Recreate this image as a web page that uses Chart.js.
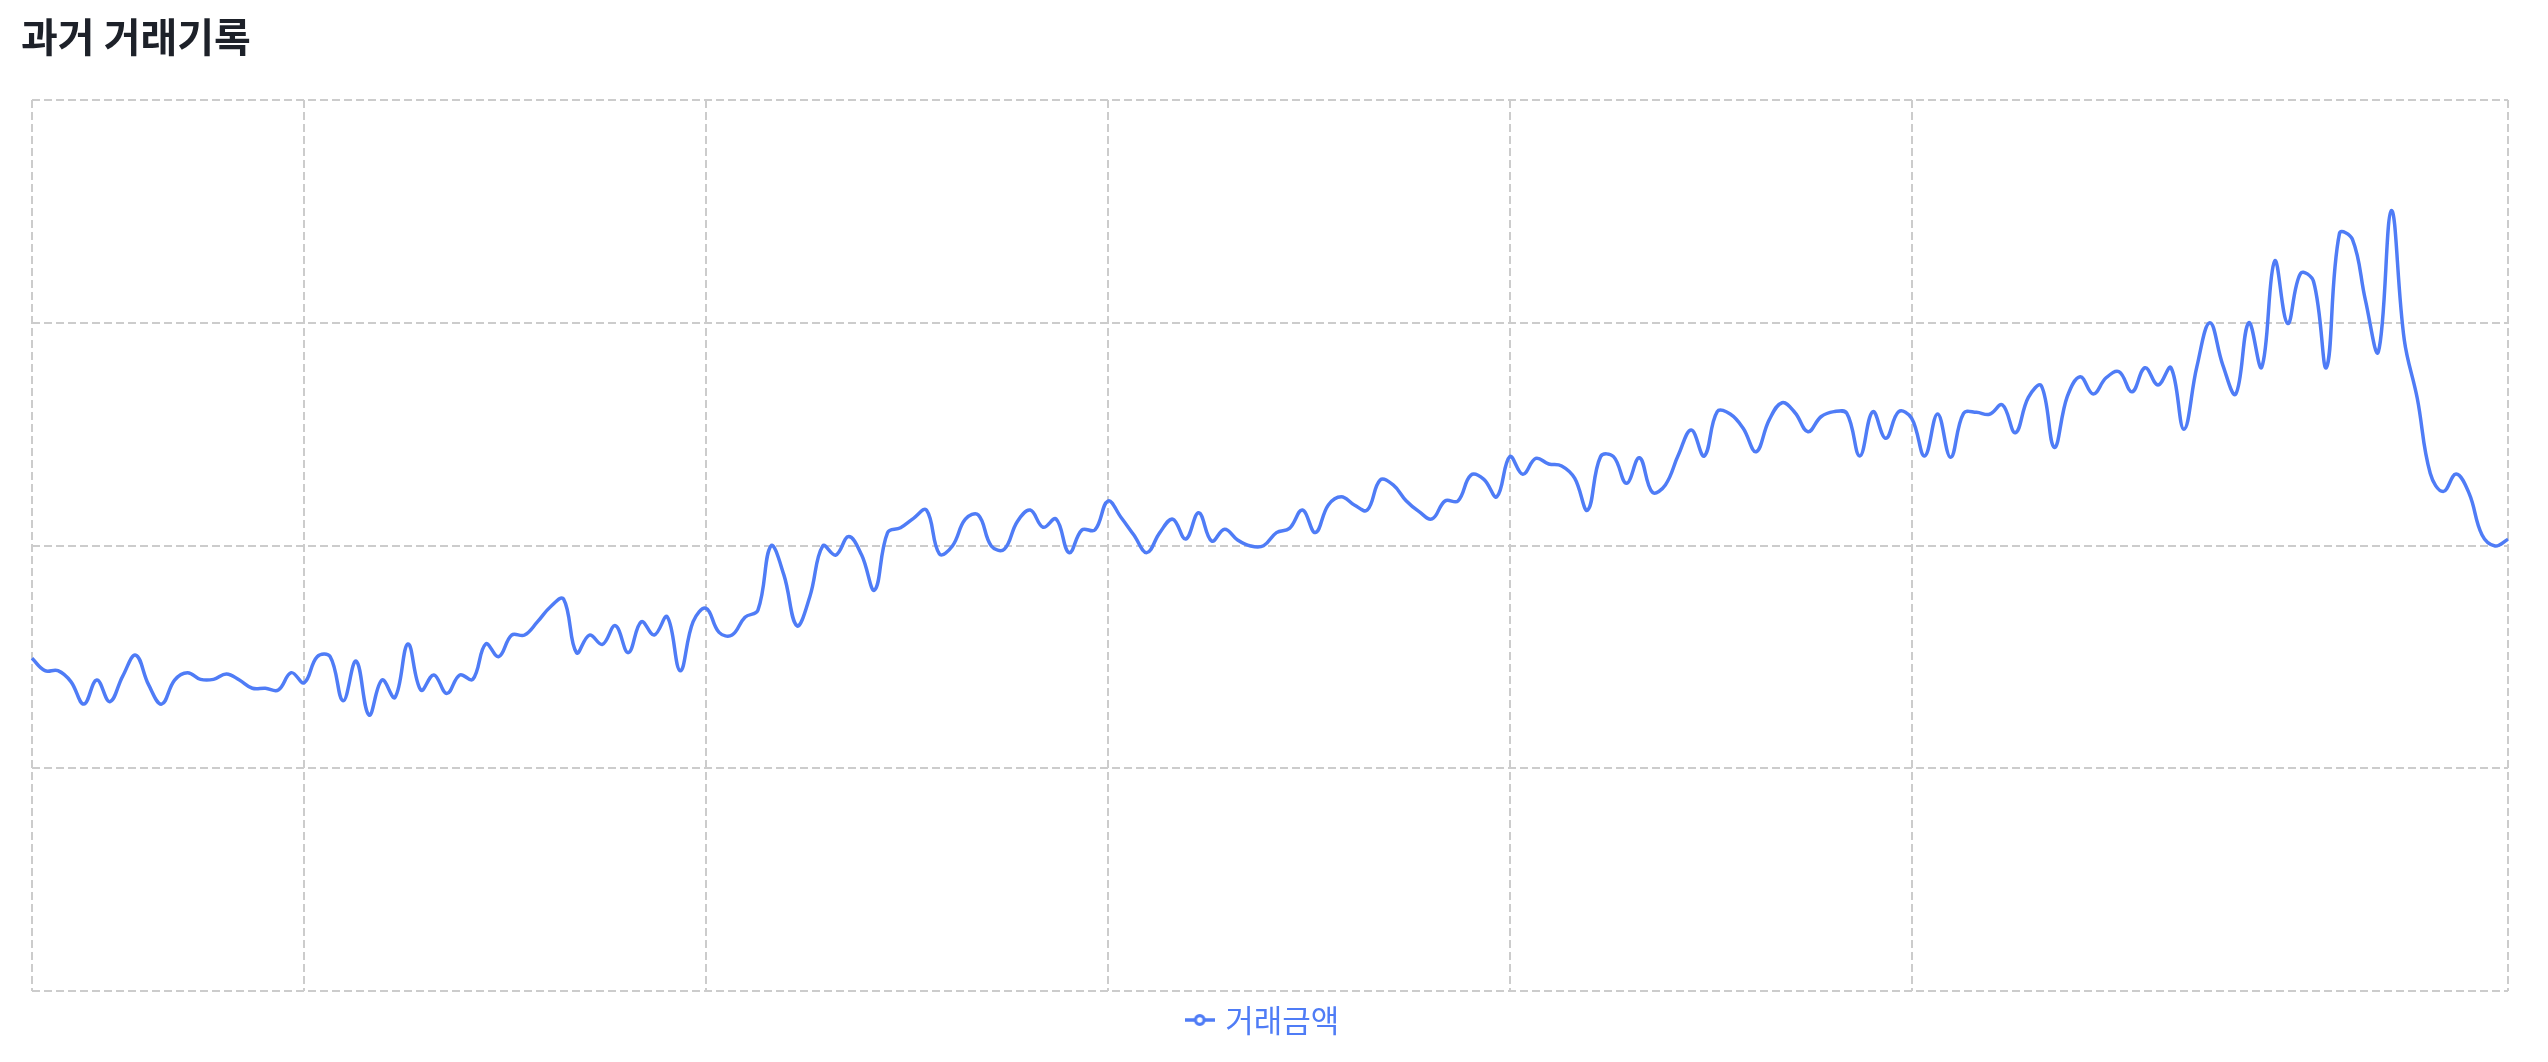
<!DOCTYPE html>
<html lang="ko">
<head>
<meta charset="utf-8">
<title>과거 거래기록</title>
<script src="https://cdn.jsdelivr.net/npm/chart.js@4.4.1/dist/chart.umd.min.js"></script>
<style>
    html, body { margin: 0; padding: 0; background: #ffffff; }
    #wrap { width: 2548px; height: 1062px; position: relative; }
</style>
</head>
<body>
<div id="wrap"><canvas id="historyChart"></canvas></div>
<script>
// daily points, x-axis labels are hidden in the original
var seriesName = '거래금액';
var amounts = [
    149.4, 143.8, 143.8, 138.9, 128.8, 139.6, 129.9, 141.4, 150.8, 137.4,
    128.8, 139.6, 142.9, 139.9, 139.9, 142.3, 139.6, 135.9, 135.9, 135.1,
    142.9, 138.4, 150.1, 150.1, 130.3, 148.1, 123.9, 139.6, 131.8, 155.8,
    135.1, 141.9, 133.6, 141.9, 139.9, 155.8, 150.1, 159.8, 159.8, 165.8,
    172.5, 176.0, 151.9, 159.8, 155.6, 164.0, 151.9, 165.8, 159.8, 168.0,
    143.8, 165.8, 171.8, 161.0, 159.8, 167.8, 171.0, 199.8, 186.8, 164.0,
    177.0, 199.8, 195.7, 204.0, 195.7, 180.0, 205.8, 208.0, 212.2, 215.9,
    196.2, 199.8, 211.8, 213.7, 199.8, 198.3, 210.7, 215.9, 208.2, 211.9,
    196.8, 207.0, 207.0, 220.0, 212.7, 204.7, 196.8, 205.8, 211.8, 202.9,
    214.7, 202.0, 207.3, 202.5, 199.8, 199.9, 205.8, 207.7, 215.9, 205.8,
    218.2, 221.9, 218.2, 215.9, 229.4, 227.2, 220.1, 215.2, 211.9, 220.0,
    220.0, 231.6, 229.7, 221.9, 239.9, 232.0, 239.1, 236.6, 235.7, 230.2,
    215.9, 239.9, 239.9, 227.9, 239.4, 223.9, 227.2, 240.6, 251.9, 240.2,
    260.1, 259.0, 252.6, 242.1, 256.3, 264.1, 259.6, 251.1, 257.8, 260.1,
    259.3, 240.2, 260.1, 248.1, 260.1, 257.1, 240.2, 259.0, 239.6, 259.3,
    259.8, 258.9, 263.1, 250.6, 266.5, 271.7, 244.1, 266.8, 275.8, 268.0,
    275.3, 278.0, 269.0, 279.8, 272.1, 279.8, 252.2, 280.3, 300.0, 281.0,
    268.0, 300.0, 280.0, 327.7, 299.7, 322.2, 318.5, 280.0, 340.1, 337.4,
    310.2, 287.0, 350.3, 292.3, 266.1, 232.4, 224.2, 232.1, 223.4, 204.7,
    199.8, 202.8
];
var days = amounts.map(function (v, i) { return 'D' + (i + 1); });
// indices where the vertical grid lines fall
var gridDays = [0, 21, 52, 83, 114, 145, 191];
var yTicks = [0, 100, 200, 300, 400];

var lineColor = '#4f7cf6';
var gridColor = '#cccccc';
var fontFamily = "'Noto Sans CJK KR', 'Noto Sans', sans-serif";

// legend icon: short line with hollow circle
var legendIcon = document.createElement('canvas');
legendIcon.width = 30;
legendIcon.height = 16;
(function () {
    var c = legendIcon.getContext('2d');
    c.strokeStyle = lineColor;
    c.lineWidth = 3.5;
    c.beginPath();
    c.moveTo(0, 8);
    c.lineTo(30, 8);
    c.stroke();
    c.beginPath();
    c.arc(15, 8, 4.3, 0, Math.PI * 2);
    c.fillStyle = '#ffffff';
    c.fill();
    c.lineWidth = 3.2;
    c.stroke();
})();

var ctx = document.getElementById('historyChart').getContext('2d');
var historyChart = new Chart(ctx, {
    type: 'line',
    data: {
        labels: days,
        datasets: [{
            label: seriesName,
            data: amounts,
            borderColor: lineColor,
            backgroundColor: lineColor,
            borderWidth: 3.5,
            tension: 0.4,
            pointRadius: 0,
            pointHoverRadius: 0,
            fill: false
        }]
    },
    options: {
        responsive: true,
        maintainAspectRatio: false,
        animation: false,
        layout: {
            padding: { top: 0, left: 21, right: 40, bottom: 16.5 }
        },
        scales: {
            x: {
                type: 'category',
                ticks: { display: false },
                grid: { color: gridColor, lineWidth: 2, drawTicks: false },
                border: { display: false, dash: [8, 4] },
                afterBuildTicks: function (scale) {
                    scale.ticks = gridDays.map(function (d) { return { value: d }; });
                }
            },
            y: {
                min: yTicks[0],
                max: yTicks[yTicks.length - 1],
                ticks: { display: false, stepSize: 100 },
                grid: { color: gridColor, lineWidth: 2, drawTicks: false },
                border: { display: false, dash: [8, 4] },
                afterBuildTicks: function (scale) {
                    scale.ticks = yTicks.map(function (v) { return { value: v }; });
                },
                afterFit: function (scale) {
                    scale.width = 11;
                }
            }
        },
        plugins: {
            title: {
                display: true,
                text: '과거 거래기록',
                align: 'start',
                color: '#1d2129',
                font: { family: fontFamily, size: 40, weight: 'bold' },
                padding: { top: 12.6, bottom: 39.4 }
            },
            legend: {
                position: 'bottom',
                labels: {
                    usePointStyle: true,
                    boxWidth: 20,
                    padding: 13.5,
                    color: lineColor,
                    font: { family: fontFamily, size: 31 },
                    generateLabels: function (chart) {
                        var items = Chart.defaults.plugins.legend.labels.generateLabels(chart);
                        items.forEach(function (item) {
                            item.pointStyle = legendIcon;
                            item.fontColor = lineColor;
                        });
                        return items;
                    }
                }
            },
            tooltip: { enabled: false }
        }
    }
});
</script>
</body>
</html>
